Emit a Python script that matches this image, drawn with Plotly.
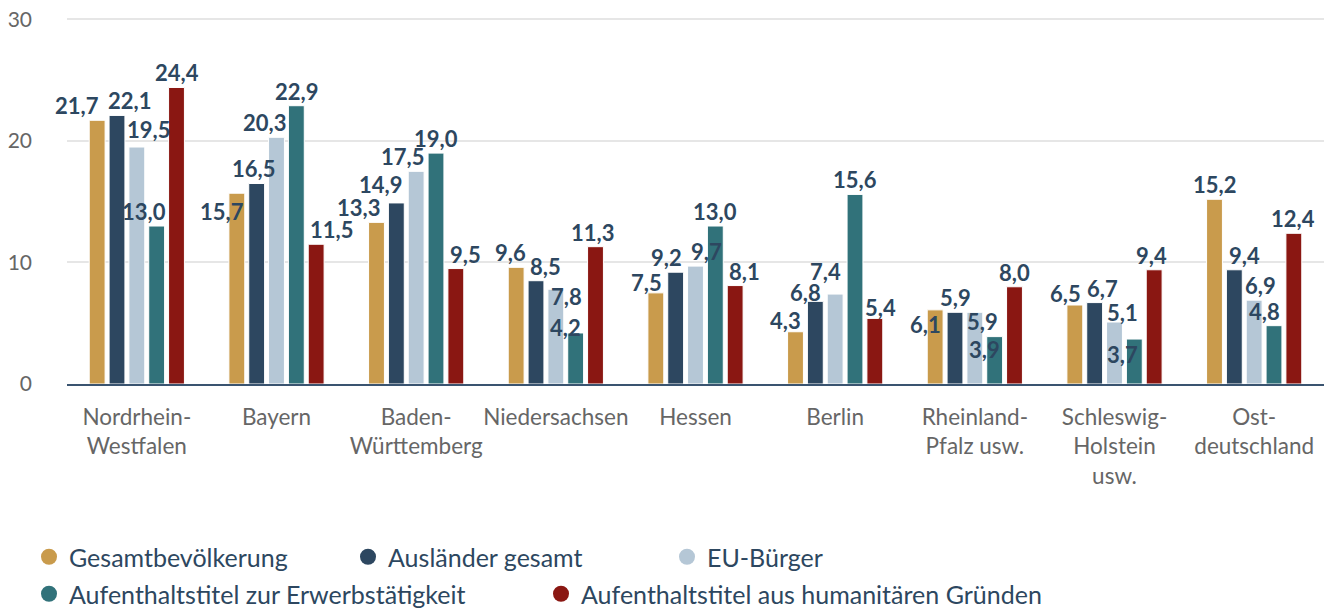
import plotly.graph_objects as go

categories = ["Nordrhein-<br>Westfalen", "Bayern", "Baden-<br>Württemberg", "Niedersachsen",
              "Hessen", "Berlin", "Rheinland-<br>Pfalz usw.", "Schleswig-<br>Holstein<br>usw.",
              "Ost-<br>deutschland"]

series_names = ["Gesamtbevölkerung", "Ausländer gesamt", "EU-Bürger",
                "Aufenthaltstitel zur Erwerbstätigkeit", "Aufenthaltstitel aus humanitären Gründen"]

gesamt = [21.7, 15.7, 13.3, 9.6, 7.5, 4.3, 6.1, 6.5, 15.2]
auslaender = [22.1, 16.5, 14.9, 8.5, 9.2, 6.8, 5.9, 6.7, 9.4]
eu = [19.5, 20.3, 17.5, 7.8, 9.7, 7.4, 5.9, 5.1, 6.9]
erwerb = [13.0, 22.9, 19.0, 4.2, 13.0, 15.6, 3.9, 3.7, 4.8]
humanitaer = [24.4, 11.5, 9.5, 11.3, 8.1, 5.4, 8.0, 9.4, 12.4]

y_ticks = [0, 10, 20, 30]

# ---- styling ----
colors = ["#c99b4c", "#2d4760", "#b5c7d6", "#31727a", "#8a1712"]
series_values = [gesamt, auslaender, eu, erwerb, humanitaer]

# label nudges (px) to avoid overlapping value labels, like the original's collision handling
label_dx = [
    [-20, -15, -18, -6, -9, -10, -10, -9, 0],
    [12, -3, -16, 9, -9, -10, 0, 8, 10],
    [12, -12, -14, 11, 11, -10, 8, 8, 6],
    [-13, 0, 0, -10, 0, 0, -10, -12, -10],
    [0, 15, 10, -3, 9, 6, 0, -3, -1],
]
label_dy = [  # positive = downwards
    [0, 33, 0, 0, 4, 3, 29, 3, 0],
    [0, 0, -4, 0, 0, 6, 0, 0, 0],
    [-3, 0, 0, 22, 0, -8, 24, 5, 0],
    [0, 0, 0, 9, 0, 0, 27, 30, 0],
    [0, 0, 0, 0, 0, 4, 0, 0, 0],
]

FONT = "Lato"
LABEL_COLOR = "#2d4760"
BARGAP = 0.29
n_series = len(series_values)
slot = (1 - BARGAP) / n_series

fig = go.Figure()
for name, vals, col in zip(series_names, series_values, colors):
    fig.add_trace(go.Bar(
        x=categories, y=vals, name=name,
        marker=dict(color=col, line=dict(color="#ffffff", width=1)),
        showlegend=False,
        hovertemplate="%{x}: %{y:.1f}<extra>" + name + "</extra>",
    ))

annotations = []
for si, vals in enumerate(series_values):
    for ci, v in enumerate(vals):
        annotations.append(dict(
            x=ci + (si - (n_series - 1) / 2) * slot, y=v, xref="x", yref="y",
            text=f"{v:.1f}".replace(".", ","), showarrow=False,
            yanchor="bottom", xanchor="center",
            xshift=label_dx[si][ci], yshift=-1 - label_dy[si][ci],
            font=dict(family=FONT, size=22, color=LABEL_COLOR, weight="bold"),
        ))

# legend entries with circle symbols
for i, (name, col) in enumerate(zip(series_names, colors)):
    fig.add_trace(go.Scatter(
        x=[None], y=[None], mode="markers", name=name,
        marker=dict(color=col, size=24, symbol="circle"),
        legend="legend" if i < 3 else "legend2",
        showlegend=True, hoverinfo="skip",
    ))

fig.update_layout(
    width=1329, height=608,
    margin=dict(l=67, r=5, t=17, b=224, autoexpand=False),
    paper_bgcolor="white", plot_bgcolor="white",
    barmode="group", bargap=BARGAP, bargroupgap=0.2,
    font=dict(family=FONT),
    annotations=annotations,
    xaxis=dict(
        range=[-0.5, len(categories) - 0.5],
        showline=True, linecolor="#3a5470", linewidth=2,
        tickfont=dict(family=FONT, size=22.5, color="#666666"),
        tickangle=0,
        ticks="", showgrid=False, fixedrange=True, ticklabelstandoff=12,
    ),
    yaxis=dict(
        range=[0, 30.2], tickvals=y_ticks, ticktext=[str(t) for t in y_ticks],
        showgrid=True, gridcolor="#e6e6e6", gridwidth=2,
        zeroline=False, ticks="", ticklabelstandoff=34,
        tickfont=dict(family=FONT, size=21, color="#666666"),
        fixedrange=True,
    ),
    legend=dict(
        orientation="h", xref="container", yref="container",
        x=29 / 1329, y=1 - 557 / 608, xanchor="left", yanchor="middle",
        font=dict(family=FONT, size=25, color=LABEL_COLOR),
        entrywidth=274, entrywidthmode="pixels", itemsizing="trace",
        bgcolor="rgba(0,0,0,0)", borderwidth=0,
    ),
    legend2=dict(
        orientation="h", xref="container", yref="container",
        x=29 / 1329, y=1 - 594 / 608, xanchor="left", yanchor="middle",
        font=dict(family=FONT, size=25, color=LABEL_COLOR),
        entrywidth=467, entrywidthmode="pixels", itemsizing="trace",
        bgcolor="rgba(0,0,0,0)", borderwidth=0,
    ),
)

fig.write_html("out.html", config={"displayModeBar": False},
               post_script="document.body.style.margin='0';")
